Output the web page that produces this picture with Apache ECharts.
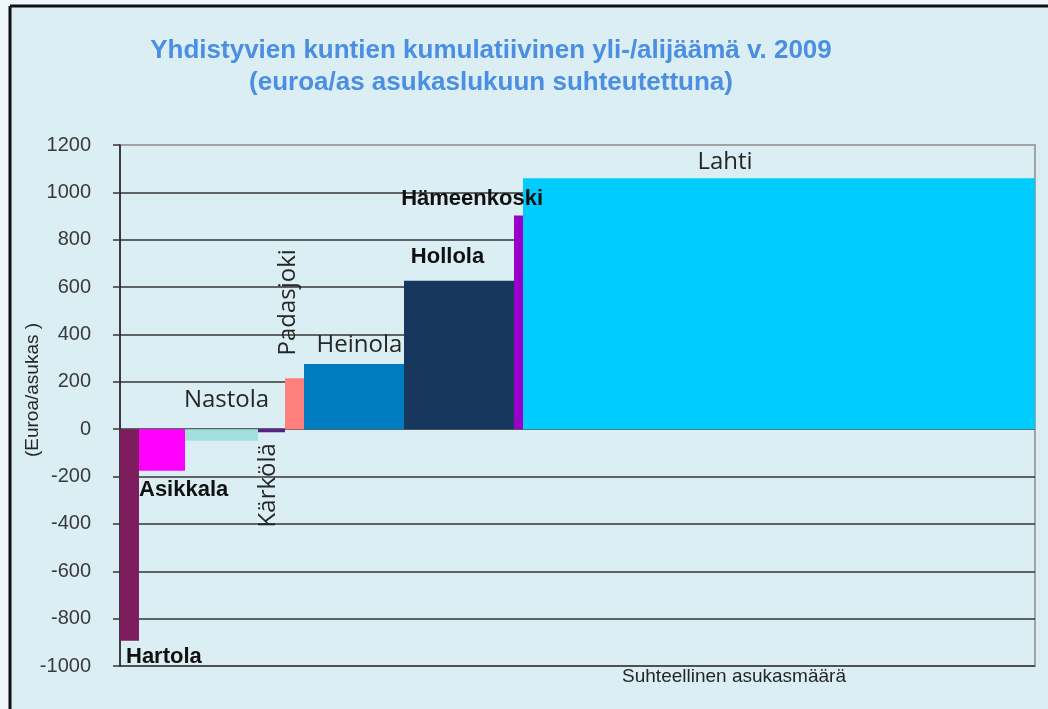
<!DOCTYPE html>
<html>
<head>
<meta charset="utf-8">
<script src="https://cdn.jsdelivr.net/npm/echarts@6/dist/echarts.min.js"></script>
<style>
  html, body { margin: 0; padding: 0; background: #eef7fa; }
  #chart { width: 1048px; height: 709px; }
</style>
</head>
<body>
<div id="chart"></div>
<script>
// ---- data ----
const municipalities = ['Hartola', 'Asikkala', 'Nastola', 'Kärkölä', 'Padasjoki', 'Heinola', 'Hollola', 'Hämeenkoski', 'Lahti'];
// cumulative surplus / deficit, euro per inhabitant
const balancePerCapita = [-893, -175, -49, -13, 215, 275, 627, 902, 1060];
// relative population (bar widths), thousands of inhabitants (approx.)
const relativePopulation = [3.8, 9.2, 14.6, 5.4, 3.8, 20.0, 22.0, 1.8, 102.4];
const yMin = -1000, yMax = 1200, yStep = 200;

const titleLines = ['Yhdistyvien kuntien kumulatiivinen yli-/alijäämä v. 2009', '(euroa/as asukaslukuun suhteutettuna)'];
const yAxisTitle = '(Euroa/asukas )';
const xAxisTitle = 'Suhteellinen asukasmäärä';

// ---- styles ----
const barColors = ['#7d1d5e', '#ff00ff', '#a2e0e0', '#5e1a8e', '#ff7f7f', '#007dc0', '#17375e', '#9900cc', '#00ccff'];
// label placement relative to each bar (pixels)
const labelSpecs = [
  { anchor: 'axisMin', ax: 'left',   dx: 6,    dy: -9,   bold: true },
  { anchor: 'end',     ax: 'left',   dx: 0,    dy: 19,   bold: true },
  { anchor: 'zero',    ax: 'center', dx: 5,    dy: -29,  bold: false },
  { anchor: 'end',     ax: 'center', dx: -3.5, dy: 53,   bold: false, rotate: true },
  { anchor: 'end',     ax: 'center', dx: -6,   dy: -76,  bold: false, rotate: true },
  { anchor: 'end',     ax: 'center', dx: 5.5,  dy: -19,  bold: false },
  { anchor: 'end',     ax: 'center', dx: -11.5,dy: -23.5,bold: true },
  { anchor: 'end',     ax: 'right',  dx: 20,   dy: -17,  bold: true },
  { anchor: 'end',     ax: 'center', dx: -54,  dy: -16,  bold: false }
];

// ---- build table ----
const table = [];
let acc = 0;
municipalities.forEach((name, i) => {
  table.push([acc, acc + relativePopulation[i], balancePerCapita[i], i]);
  acc += relativePopulation[i];
});
const totalPop = acc;

const nTicks = Math.round((yMax - yMin) / yStep) + 1;
const splitColors = [];
for (let i = 0; i < nTicks; i++) splitColors.push(i === nTicks - 1 ? '#a3a3a3' : '#353535');

const chart = echarts.init(document.getElementById('chart'));

function barGeom(api) {
  const p0 = api.coord([api.value(0), 0]);
  const p1 = api.coord([api.value(1), api.value(2)]);
  return { x0: p0[0], x1: p1[0], yZero: p0[1], yEnd: p1[1] };
}

const option = {
  backgroundColor: '#daeef3',
  animation: false,
  title: {
    text: titleLines.join('\n'),
    left: 486,
    top: 30,
    textAlign: 'center',
    textStyle: {
      color: '#4b8ee2',
      fontFamily: 'Liberation Sans, Arial, sans-serif',
      fontWeight: 'bold',
      fontSize: 26,
      lineHeight: 32
    }
  },
  grid: {
    left: 120, right: 13, top: 145, bottom: 43,
    show: true, borderColor: '#a3a3a3', borderWidth: 2, backgroundColor: 'transparent'
  },
  xAxis: {
    type: 'value', min: 0, max: totalPop,
    axisLine: { show: false }, axisTick: { show: false },
    axisLabel: { show: false }, splitLine: { show: false }
  },
  yAxis: {
    type: 'value', min: yMin, max: yMax, interval: yStep,
    axisLine: { show: true, lineStyle: { color: '#1a1a1a', width: 1.5 } },
    axisTick: { show: true, length: 7, lineStyle: { color: '#353535', width: 1.5 } },
    axisLabel: {
      color: '#3a3a3a', fontSize: 20, margin: 29,
      fontFamily: 'Liberation Sans, Arial, sans-serif',
      formatter: function (v) { return String(v); }
    },
    splitLine: { show: true, lineStyle: { color: splitColors, width: 1.5 } }
  },
  graphic: [
    { type: 'line', shape: { x1: 10, y1: 6, x2: 1048, y2: 6 }, style: { stroke: '#111', lineWidth: 3 }, z: 100 },
    { type: 'line', shape: { x1: 10, y1: 6, x2: 10, y2: 709 }, style: { stroke: '#111', lineWidth: 3 }, z: 100 },
    { type: 'rect', shape: { x: 0, y: 0, width: 9, height: 709 }, style: { fill: '#eef7fa' }, z: 99 },
    { type: 'rect', shape: { x: 0, y: 0, width: 1048, height: 5 }, style: { fill: '#eef7fa' }, z: 99 },
    {
      type: 'text', x: 33, y: 390, rotation: Math.PI / 2,
      style: { text: yAxisTitle, fill: '#262626', fontSize: 19, fontFamily: 'Liberation Sans, Arial, sans-serif', align: 'center', verticalAlign: 'middle' }
    },
    {
      type: 'text', x: 734, y: 677,
      style: { text: xAxisTitle, fill: '#262626', fontSize: 19, fontFamily: 'Liberation Sans, Arial, sans-serif', align: 'center', verticalAlign: 'middle' }
    }
  ],
  series: [
    {
      type: 'custom',
      name: 'bars',
      data: table,
      encode: { x: [0, 1], y: 2 },
      z: 2,
      renderItem: function (params, api) {
        const g = barGeom(api);
        const i = api.value(3);
        return {
          type: 'rect',
          shape: { x: g.x0, y: Math.min(g.yZero, g.yEnd), width: g.x1 - g.x0, height: Math.abs(g.yEnd - g.yZero) },
          style: { fill: barColors[i] }
        };
      }
    },
    {
      type: 'custom',
      name: 'labels',
      data: table,
      encode: { x: [0, 1], y: 2 },
      z: 5,
      silent: true,
      renderItem: function (params, api) {
        const g = barGeom(api);
        const i = api.value(3);
        const s = labelSpecs[i];
        let yRef;
        if (s.anchor === 'axisMin') yRef = api.coord([0, yMin])[1];
        else if (s.anchor === 'zero') yRef = g.yZero;
        else yRef = g.yEnd;
        let x, align;
        if (s.ax === 'left') { x = g.x0 + s.dx; align = 'left'; }
        else if (s.ax === 'right') { x = g.x1 + s.dx; align = 'right'; }
        else { x = (g.x0 + g.x1) / 2 + s.dx; align = 'center'; }
        return {
          type: 'text',
          x: x, y: yRef + s.dy,
          rotation: s.rotate ? Math.PI / 2 : 0,
          style: {
            text: municipalities[i],
            fill: s.bold ? '#111111' : '#262626',
            fontSize: s.bold ? 22 : 24,
            fontWeight: s.bold ? 'bold' : 'normal',
            fontFamily: s.bold ? 'Liberation Sans, Arial, sans-serif' : 'Open Sans, sans-serif',
            align: s.rotate ? 'center' : align,
            verticalAlign: 'middle'
          }
        };
      }
    }
  ]
};
chart.setOption(option);
</script>
</body>
</html>
